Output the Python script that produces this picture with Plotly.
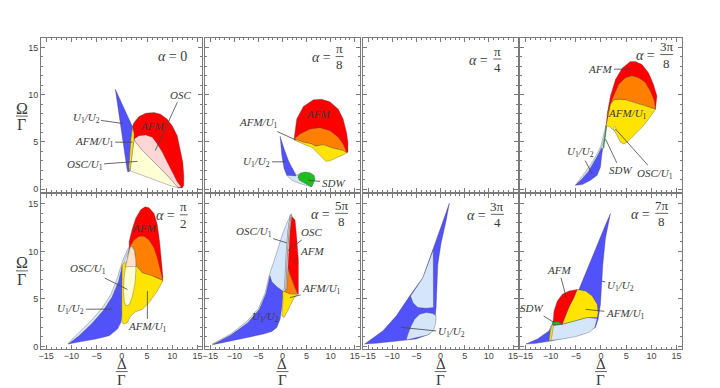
import plotly.graph_objects as go

W, H = 720, 388

C_BLUE = "rgb(82,82,250)"
C_LBLUE = "rgb(214,230,250)"
C_RED = "rgb(255,0,0)"
C_ORANGE = "rgb(255,128,0)"
C_YELLOW = "rgb(255,228,0)"
C_PALE = "rgb(255,255,214)"
C_PINK = "rgb(255,214,214)"
C_PEACH = "rgb(253,226,200)"
C_GREEN = "rgb(30,190,30)"

# ---- alpha = 0
A0_RED = [(2.1, 6.64), (2.43, 7.06), (3.42, 7.69), (4.74, 8.04), (6.38, 8.11), (7.7, 7.94), (9.0, 7.41),
          (10.0, 6.71), (11.0, 5.66), (11.6, 4.27), (12.1, 2.87), (12.3, 1.47), (12.3, 0.42), (12.0, 0.13),
          (11.3, 0.13), (8.0, 2.5), (4.5, 4.6), (2.43, 5.31)]
A0_PINK = [(2.43, 5.31), (3.42, 5.66), (4.74, 5.73), (6.05, 5.49), (7.04, 4.79), (8.03, 3.92), (9.0, 2.87),
           (10.0, 1.82), (11.0, 0.77), (11.8, 0.2), (11.1, 0.2), (8.68, 1.64), (6.05, 3.04), (4.08, 4.09),
           (2.63, 5.03)]
A0_PALE = [(2.43, 5.31), (2.63, 5.03), (4.08, 4.09), (6.05, 3.04), (8.68, 1.64), (11.1, 0.2), (11.3, 0.12),
           (9.34, 0.42), (6.7, 0.94), (4.08, 1.47), (2.43, 1.75), (1.64, 1.95), (1.84, 2.87), (2.24, 4.27)]
A0_YELLOW = [(2.1, 6.64), (2.43, 5.9), (2.43, 5.31), (2.24, 4.27), (1.84, 2.87), (1.64, 1.95), (1.5, 1.89),
             (1.38, 2.34), (1.5, 3.57), (1.78, 5.3)]
A0_BLUE = [(-1.3, 10.6), (2.1, 6.64), (1.78, 5.3), (1.5, 3.57), (1.38, 2.34), (1.5, 1.89), (1.2, 1.8), (1.0, 2.24)]

# ---- alpha = pi/8
A1_RED = [(2.41, 5.31), (2.96, 7.42), (4.34, 8.75), (6.41, 9.45), (8.13, 9.52), (9.85, 9.24), (11.6, 8.47),
          (12.6, 7.42), (13.3, 6.02), (13.6, 4.97), (13.6, 3.92), (13.4, 3.85), (9.0, 5.5), (5.0, 6.0)]
A1_ORANGE = [(2.41, 5.31), (3.65, 5.84), (5.72, 6.37), (7.79, 6.51), (9.85, 6.19), (11.6, 5.49), (12.6, 4.79),
             (13.4, 3.92), (13.4, 3.85), (12.6, 4.09), (10.5, 4.34), (8.48, 4.69), (6.76, 4.55), (6.07, 4.79),
             (4.34, 4.97)]
A1_YELLOW = [(2.41, 5.31), (4.34, 4.97), (6.07, 4.79), (6.76, 4.55), (8.48, 4.69), (10.5, 4.34), (12.6, 4.09),
             (13.4, 3.85), (12.6, 3.63), (11.2, 3.35), (9.85, 3.0), (9.03, 2.94), (8.13, 3.39), (7.1, 3.99),
             (6.07, 4.44), (5.03, 4.62), (3.65, 4.9), (2.41, 5.2)]
A1_LBLUE = [(0.89, 1.47), (1.92, 0.94), (3.65, 0.59), (5.38, 0.34), (6.07, 0.24), (6.0, 1.3), (3.65, 1.64),
            (2.96, 1.47), (2.0, 2.2)]
A1_BLUE = [(-0.49, 5.6), (-0.14, 3.57), (0.34, 2.17), (0.89, 1.47), (2.83, 1.4), (2.27, 1.99), (1.23, 3.04),
           (0.34, 4.27)]
A1_GREEN = [(3.31, 1.47), (3.79, 1.71), (4.68, 1.81), (5.72, 1.74), (6.55, 1.47), (6.76, 1.05), (6.41, 0.59),
            (6.07, 0.24), (5.38, 0.41), (4.34, 0.69), (3.51, 0.94), (3.24, 1.25)]

# ---- alpha = 3pi/8
A3_RED = [(1.02, 6.72), (1.28, 8.12), (1.88, 9.87), (2.87, 11.6), (4.18, 12.8), (5.83, 13.5), (6.82, 13.5),
          (8.14, 13.2), (9.45, 12.3), (10.4, 11.1), (11.1, 9.87), (10.9, 8.64), (10.8, 8.47), (6.0, 10.0),
          (2.0, 8.0)]
A3_ORANGE = [(1.2, 7.9), (2.21, 9.52), (3.52, 11.1), (4.84, 11.8), (6.16, 12.0), (7.47, 11.8), (8.79, 11.3),
             (9.78, 10.4), (10.6, 9.34), (10.9, 8.54), (10.8, 8.47), (8.79, 8.82), (6.82, 9.1), (4.84, 9.45),
             (3.52, 9.52), (2.54, 9.45), (1.88, 8.99), (1.42, 7.77)]
A3_YELLOW = [(1.02, 6.72), (1.42, 7.77), (1.88, 8.99), (2.54, 9.45), (3.52, 9.52), (4.84, 9.45), (6.82, 9.1),
             (8.79, 8.82), (10.8, 8.47), (9.45, 7.42), (8.14, 6.54), (6.49, 5.66), (5.17, 4.97), (4.51, 4.79),
             (3.85, 4.97), (2.87, 6.02), (1.88, 6.54)]
A3_PALE = [(2.73, 6.68), (2.9, 6.6), (2.95, 6.43), (2.9, 6.26), (2.73, 6.18), (2.56, 6.26), (2.5, 6.43),
           (2.56, 6.6)]
A3_LBLUE = [(1.0, 6.8), (0.5, 5.6), (0.0, 4.6), (-0.8, 3.7), (-1.8, 2.8), (-3.0, 1.9), (-4.3, 1.0), (-5.1, 0.4),
            (-4.0, 0.85), (-2.8, 1.7), (-1.6, 2.6), (-0.5, 3.6), (0.3, 4.7), (0.8, 5.7)]
A3_BLUE = [(-5.04, 0.41), (-3.72, 1.1), (-2.5, 1.85), (-1.5, 2.75), (-0.5, 3.7), (0.1, 4.35), (0.35, 4.3),
           (0.1, 3.39), (-0.1, 2.34), (-0.76, 1.47), (-2.08, 0.94), (-3.72, 0.48)]
A3_GREEN = [(1.02, 6.72), (0.72, 5.6), (0.38, 4.4), (0.55, 4.3), (0.9, 5.5), (1.15, 6.6)]

# ---- alpha = pi/2
A4_LBLUE = [(-10.7, 0.31), (-8.76, 1.3), (-6.13, 2.69), (-3.82, 4.09), (-2.17, 5.48), (-0.86, 7.23),
            (0.13, 8.97), (1.12, 10.2), (1.78, 10.7), (1.5, 10.3), (0.9, 9.4), (0.2, 8.5), (-0.6, 6.9),
            (-1.9, 5.2), (-3.6, 3.8), (-5.9, 2.4), (-8.5, 1.1), (-10.3, 0.3)]
A4_BLUE = [(-10.6, 0.25), (-8.5, 1.1), (-5.9, 2.4), (-3.6, 3.8), (-1.9, 5.2), (-0.6, 6.9), (0.1, 8.5),
           (0.1, 3.38), (-0.2, 2.51), (-0.86, 1.82), (-2.5, 1.13), (-5.14, 0.77), (-7.77, 0.53)]
A4_RED = [(1.45, 11.06), (2.11, 12.45), (2.77, 13.5), (3.75, 14.4), (4.6, 14.7), (5.4, 14.6), (6.4, 14.0),
          (7.05, 12.8), (7.5, 11.06), (7.9, 8.97), (8.17, 7.23), (8.04, 6.88), (4.0, 8.0), (1.5, 10.0)]
A4_ORANGE = [(1.58, 10.5), (2.44, 11.2), (3.43, 11.6), (4.41, 11.6), (5.4, 11.2), (6.39, 10.4), (7.05, 9.31),
             (7.7, 8.09), (8.17, 6.93), (7.05, 7.23), (5.73, 7.49), (4.08, 7.74), (2.64, 8.62), (1.2, 9.5)]
A4_YELLOW = [(0.1, 8.6), (0.8, 8.9), (2.64, 8.62), (4.08, 7.74), (5.73, 7.49), (7.05, 7.23), (8.17, 6.93),
             (7.05, 5.83), (5.4, 4.62), (4.08, 3.9), (2.77, 3.66), (1.78, 3.22), (1.12, 2.52), (0.46, 2.35),
             (0.0, 2.51), (0.0, 6.17)]
A4_PALE = [(2.0, 10.55), (2.5, 10.1), (2.75, 9.2), (2.8, 8.0), (2.6, 6.6), (2.1, 5.3), (1.5, 4.4), (0.9, 4.25),
           (0.5, 4.7), (0.35, 5.8), (0.45, 7.2), (0.8, 8.6), (1.3, 9.8), (1.65, 10.4)]
A4_PEACH = [(0.75, 8.4), (1.3, 9.8), (1.65, 10.4), (2.0, 10.55), (2.5, 10.1), (2.75, 9.2), (2.8, 8.4)]

# ---- alpha = 5pi/8
A5_LBLUE = [(-14.6, 0.24), (-10.8, 1.3), (-7.39, 2.63), (-4.97, 4.02), (-3.59, 5.66), (-2.75, 7.5),
            (-1.32, 9.67), (-0.14, 11.6), (0.89, 13.0), (1.93, 14.0), (1.6, 13.8), (1.1, 12.0), (0.8, 10.0),
            (0.6, 8.0), (0.5, 6.2), (0.06, 5.83), (-2.0, 3.0), (-8.0, 1.0)]
A5_BLUE = [(-14.5, 0.18), (-10.7, 1.2), (-7.2, 2.5), (-4.8, 3.9), (-3.4, 5.6), (-2.6, 7.45), (-2.21, 6.81),
           (-1.18, 6.29), (0.06, 5.83), (0.06, 5.14), (-0.14, 4.09), (-0.49, 2.87), (-1.18, 2.0),
           (-2.21, 1.58), (-3.94, 1.3), (-7.39, 0.95), (-10.8, 0.53)]
A5_YELLOW = [(0.06, 5.83), (1.58, 5.54), (3.1, 5.49), (2.27, 4.96), (1.58, 4.26), (0.89, 3.56), (0.34, 3.05),
             (-0.14, 3.22), (0.06, 4.43)]
A5_ORANGE = [(0.7, 6.0), (0.85, 8.0), (0.95, 8.7), (1.58, 7.58), (2.62, 6.18), (3.17, 5.54), (1.58, 5.54),
             (0.3, 5.8)]
A5_RED = [(1.93, 13.7), (2.62, 13.3), (2.96, 11.4), (3.3, 9.14), (3.3, 5.49), (3.17, 5.54), (2.62, 6.18),
          (1.58, 7.58), (0.95, 8.7), (1.1, 10.0), (1.4, 12.0), (1.8, 13.6)]
A5_PALE = [(1.6, 13.8), (1.1, 12.0), (0.8, 10.0), (0.6, 8.0), (0.45, 6.0), (0.7, 6.0), (0.85, 8.0),
           (1.05, 10.0), (1.35, 12.0), (1.78, 13.8)]
A5_PINK = [(1.78, 13.8), (1.35, 12.0), (1.05, 10.0), (0.85, 8.0), (0.7, 6.0), (0.9, 6.0), (1.1, 8.0),
           (1.3, 10.0), (1.55, 12.0), (1.95, 13.8)]

# ---- alpha = 3pi/4
A6_BLUE = [(-15.7, 0.25), (-11.9, 1.65), (-9.15, 3.22), (-6.4, 5.31), (-3.66, 7.23), (-1.6, 10.2),
           (0.12, 12.8), (1.84, 15.1), (1.15, 13.2), (0.12, 10.9), (-0.56, 8.61), (-0.77, 6.17),
           (-0.91, 4.09), (-1.25, 2.35), (-2.28, 1.3), (-5.03, 0.78), (-9.15, 0.53), (-13.3, 0.33)]
A6_LBLUE1 = [(-1.5, 10.15), (-2.6, 8.7), (-3.66, 7.23), (-5.0, 6.2), (-6.2, 5.3), (-5.7, 4.6), (-4.69, 4.09),
             (-2.97, 4.02), (-1.46, 4.09)]
A6_LBLUE2 = [(-6.06, 2.17), (-5.37, 2.87), (-4.34, 3.39), (-2.97, 3.56), (-1.6, 3.46), (-0.91, 3.22),
             (-1.04, 2.35), (-1.46, 1.65), (-2.63, 1.2), (-5.03, 0.88), (-7.1, 0.67), (-6.75, 1.3)]

# ---- alpha = 7pi/8
A7_BLUE = [(-14.9, 0.25), (-12.6, 0.78), (-10.3, 1.65), (-9.65, 2.34), (-8.33, 4.09), (-6.36, 5.47),
           (-4.38, 5.99), (-2.4, 8.61), (-0.43, 11.1), (0.89, 12.8), (1.88, 14.0), (0.89, 11.4), (0.36, 8.61),
           (0.1, 6.17), (-0.1, 4.43), (-0.56, 2.87), (-1.09, 2.0), (-3.72, 1.3), (-7.0, 0.88), (-10.3, 0.53),
           (-12.9, 0.32)]
A7_LBLUE = [(-10.3, 0.6), (-9.98, 2.16), (-7.67, 2.34), (-5.04, 2.69), (-2.73, 3.04), (-0.76, 2.94),
            (-1.22, 2.0), (-2.4, 1.48), (-5.04, 1.03), (-7.67, 0.78)]
A7_RED = [(-9.52, 2.51), (-9.32, 3.73), (-8.66, 4.78), (-7.67, 5.48), (-6.36, 5.83), (-4.71, 6.0),
          (-5.37, 5.12), (-6.36, 4.09), (-7.15, 3.04), (-7.67, 2.34), (-8.99, 2.34)]
A7_YELLOW = [(-4.71, 6.0), (-3.06, 5.83), (-1.75, 5.31), (-0.76, 4.43), (-0.56, 3.56), (-0.76, 3.04),
             (-2.73, 3.04), (-5.04, 2.69), (-7.67, 2.34), (-7.15, 3.04), (-6.36, 4.09), (-5.37, 5.12)]
A7_YELLOW2 = [(-9.65, 2.34), (-9.4, 2.3), (-9.7, 1.2), (-9.95, 0.6), (-10.3, 0.6), (-10.05, 1.5)]
A7_GREEN = [(-9.65, 2.51), (-8.66, 2.61), (-7.67, 2.4), (-8.66, 2.27), (-9.65, 2.3)]

# region draw order per panel
PANELS = [
    [(A0_RED, C_RED), (A0_PINK, C_PINK), (A0_PALE, C_PALE), (A0_YELLOW, C_YELLOW), (A0_BLUE, C_BLUE)],
    [(A1_RED, C_RED), (A1_ORANGE, C_ORANGE), (A1_YELLOW, C_YELLOW), (A1_LBLUE, C_LBLUE), (A1_BLUE, C_BLUE),
     (A1_GREEN, C_GREEN)],
    [],
    [(A3_LBLUE, C_LBLUE), (A3_BLUE, C_BLUE), (A3_GREEN, C_GREEN), (A3_RED, C_RED), (A3_ORANGE, C_ORANGE),
     (A3_YELLOW, C_YELLOW), (A3_PALE, C_PALE)],
    [(A4_LBLUE, C_LBLUE), (A4_BLUE, C_BLUE), (A4_RED, C_RED), (A4_ORANGE, C_ORANGE), (A4_YELLOW, C_YELLOW),
     (A4_PALE, C_PALE), (A4_PEACH, C_PEACH)],
    [(A5_LBLUE, C_LBLUE), (A5_BLUE, C_BLUE), (A5_YELLOW, C_YELLOW), (A5_ORANGE, C_ORANGE), (A5_RED, C_RED),
     (A5_PALE, C_PALE), (A5_PINK, C_PINK)],
    [(A6_BLUE, C_BLUE), (A6_LBLUE1, C_LBLUE), (A6_LBLUE2, C_LBLUE)],
    [(A7_BLUE, C_BLUE), (A7_LBLUE, C_LBLUE), (A7_RED, C_RED), (A7_YELLOW, C_YELLOW), (A7_YELLOW2, C_YELLOW),
     (A7_GREEN, C_GREEN)],
]

U12 = "<i>U</i><sub>1</sub><i>/U</i><sub>2</sub>"
AFMU1 = "<i>AFM/U</i><sub>1</sub>"
OSCU1 = "<i>OSC/U</i><sub>1</sub>"

# (panel, text, label x, label y, target x, target y) ; target None -> no leader
LABELS = [
    (0, "<i>OSC</i>", 11.7, 10.0, 6.65, 4.1),
    (0, "<i>AFM</i>", 6.0, 6.7, None, None),
    (0, U12, -7.1, 7.5, 0.2, 6.95),
    (0, AFMU1, -5.5, 4.97, 2.1, 4.97),
    (0, OSCU1, -7.4, 2.52, 3.1, 2.94),
    (1, "<i>AFM</i>", 7.45, 7.94, None, None),
    (1, AFMU1, -5.0, 7.0, 2.8, 5.2),
    (1, U12, -5.3, 2.87, 0.6, 2.9),
    (1, "<i>SDW</i>", 10.5, 0.69, 5.38, 0.94),
    (3, "<i>AFM</i>", -0.1, 12.7, 5.8, 12.7),
    (3, AFMU1, 5.17, 7.94, None, None),
    (3, U12, -4.05, 3.92, -1.75, 1.64),
    (3, "<i>SDW</i>", 3.85, 1.99, 0.89, 5.31),
    (3, OSCU1, 10.8, 1.64, 2.87, 6.37),
    (4, "<i>AFM</i>", 4.41, 12.5, None, None),
    (4, OSCU1, -6.78, 8.1, 1.12, 6.0),
    (4, U12, -10.1, 3.92, -1.84, 3.92),
    (4, AFMU1, 5.07, 2.0, 5.07, 5.83),
    (5, OSCU1, -6.0, 12.0, 0.9, 10.9),
    (5, "<i>OSC</i>", 6.06, 12.0, 1.15, 10.1),
    (5, "<i>AFM</i>", 6.06, 10.0, 2.27, 9.03),
    (5, AFMU1, 8.13, 6.0, 1.58, 5.14),
    (5, U12, -3.6, 3.05, None, None),
    (6, U12, 2.2, 1.47, -8.1, 2.0),
    (7, "<i>AFM</i>", -8.33, 8.02, -6.88, 5.13),
    (7, U12, 3.85, 6.41, 0.1, 6.88),
    (7, "<i>SDW</i>", -13.7, 4.01, -9.32, 2.51),
    (7, AFMU1, 4.84, 3.46, -3.06, 3.91),
]

# alpha labels: numerator, denominator (None -> plain)
ALPHA_NUM = ["0", "π", "π", "3π", "π", "5π", "3π", "7π"]
ALPHA_DEN = [None, "8", "4", "8", "2", "8", "4", "8"]

X_RANGE = [-16, 16]
Y_RANGE = [-0.25, 16]

COLS_PX = [(38.3, 200.3), (203.3, 358.0), (361.7, 517.0), (519.5, 681.5)]
ROWS_PX = [(38.3, 193.0), (196.0, 351.5)]
ALPHA_POS = [(170, 57), (338, 57), (496.5, 59.5), (666.5, 55),
             (181.5, 216.5), (340, 215), (496.5, 216), (661.5, 215)]

SERIF = "Liberation Serif"
TXT = "#3a3a3a"
FRAME = "#7a7a7a"


def px(x):
    return x / W


def py(y):
    return 1 - y / H


def ax_ids(i):
    return ("x", "y") if i == 0 else (f"x{i + 1}", f"y{i + 1}")


fig = go.Figure()

for i, regions in enumerate(PANELS):
    xa, ya = ax_ids(i)
    for pts, col in regions:
        xs = [p[0] for p in pts] + [pts[0][0]]
        ys = [p[1] for p in pts] + [pts[0][1]]
        fig.add_trace(go.Scatter(x=xs, y=ys, xaxis=xa, yaxis=ya, mode="lines", fill="toself",
                                 fillcolor=col, line=dict(color="rgba(60,60,80,0.55)", width=0.6),
                                 hoverinfo="skip", showlegend=False))
    if not regions:
        fig.add_trace(go.Scatter(x=[None], y=[None], xaxis=xa, yaxis=ya, showlegend=False))

axis_common = dict(showgrid=False, zeroline=False, ticks="inside", showline=True, linecolor=FRAME,
                   linewidth=1, mirror="allticks", tickcolor=FRAME, ticklen=4, tickwidth=0.8,
                   tickfont=dict(family="Liberation Sans", size=9, color="#444"),
                   minor=dict(ticks="inside", ticklen=2, tickcolor=FRAME, dtick=1, tick0=0))

layout = dict(width=W, height=H, margin=dict(l=0, r=0, t=0, b=0), paper_bgcolor="white",
              plot_bgcolor="white", showlegend=False)
for i in range(8):
    r, c = divmod(i, 4)
    xa, ya = ax_ids(i)
    xk = "xaxis" if i == 0 else f"xaxis{i + 1}"
    yk = "yaxis" if i == 0 else f"yaxis{i + 1}"
    x0, x1 = COLS_PX[c]
    y0, y1 = ROWS_PX[r]
    layout[xk] = dict(axis_common, domain=[px(x0), px(x1)], range=X_RANGE, anchor=ya,
                      tick0=-15, dtick=5, showticklabels=(r == 1), ticklabelstandoff=-2)
    layout[yk] = dict(axis_common, domain=[py(y1), py(y0)], range=Y_RANGE, anchor=xa,
                      tick0=0, dtick=5, showticklabels=(c == 0))
fig.update_layout(**layout)

# region labels with leader lines
for pi, text, lx, ly, tx, ty in LABELS:
    xa, ya = ax_ids(pi)
    if tx is None:
        fig.add_annotation(x=lx, y=ly, xref=xa, yref=ya, text=text, showarrow=False,
                           font=dict(family=SERIF, size=11, color=TXT))
    else:
        fig.add_annotation(x=tx, y=ty, xref=xa, yref=ya, ax=lx, ay=ly, axref=xa, ayref=ya,
                           text=text, showarrow=True, arrowhead=0, arrowwidth=0.8,
                           arrowcolor="#444", standoff=0, borderpad=1,
                           font=dict(family=SERIF, size=11, color=TXT))


def ptext(cx, cy, text, size, xanchor="center"):
    fig.add_annotation(x=px(cx), y=py(cy), xref="paper", yref="paper", text=text, showarrow=False,
                       xanchor=xanchor, yanchor="middle", font=dict(family=SERIF, size=size, color=TXT))


def frac(cx, cy, num, den, size=14, barw=10, up=8, down=8.5):
    ptext(cx, cy - up, num, size)
    ptext(cx, cy + down, den, size)
    fig.add_shape(type="line", xref="paper", yref="paper", x0=px(cx - barw / 2), x1=px(cx + barw / 2),
                  y0=py(cy), y1=py(cy), line=dict(color=TXT, width=0.8))


for i, (num, den) in enumerate(zip(ALPHA_NUM, ALPHA_DEN)):
    cx, cy = ALPHA_POS[i]
    if den is None:
        ptext(cx, cy, "<i>α</i> = " + num, 14)
    else:
        bw = 8 if len(num) == 1 else 13
        ptext(cx - bw / 2 - 3, cy + 1, "<i>α</i> =", 14, xanchor="right")
        frac(cx, cy, num, den, size=13, barw=bw)

# axis titles
for r in range(2):
    frac(19, [117, 273][r], "Ω", "Γ", size=16, barw=12)
for c in range(4):
    x0, x1 = COLS_PX[c]
    frac((x0 + x1) / 2, 374.5, "Δ", "Γ", size=15, barw=12, up=8, down=8.5)

fig.write_html("out.html", config={"displayModeBar": False},
               post_script="document.body.style.margin='0px';")
